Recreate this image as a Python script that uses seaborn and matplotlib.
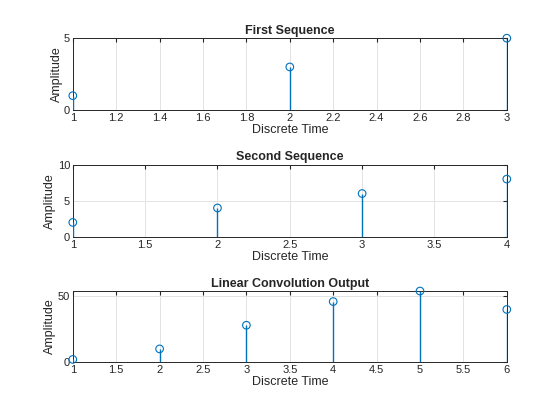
import matplotlib
matplotlib.use('Agg')
import matplotlib.pyplot as plt
import seaborn as sns
import pandas as pd

# sequences
x_seq = [1, 3, 5]
h_seq = [2, 4, 6, 8]
y_conv = [2, 10, 28, 46, 54, 40]

titles = ['First Sequence', 'Second Sequence', 'Linear Convolution Output']
y_limits = [(0, 5), (0, 10), (0, 54)]
x_ticks = [
    [1, 1.2, 1.4, 1.6, 1.8, 2, 2.2, 2.4, 2.6, 2.8, 3],
    [1, 1.5, 2, 2.5, 3, 3.5, 4],
    [1, 1.5, 2, 2.5, 3, 3.5, 4, 4.5, 5, 5.5, 6],
]
y_ticks = [[0, 5], [0, 5, 10], [0, 50]]

sns.set_style('white')
plt.rcParams['font.family'] = ['Liberation Sans', 'DejaVu Sans']

blue = '#0072BD'
fig = plt.figure(figsize=(5.6, 4.2), dpi=100)
positions = [[0.13, 0.738, 0.775, 0.171],
             [0.13, 0.436, 0.775, 0.172],
             [0.13, 0.138, 0.775, 0.169]]

for i, seq in enumerate([x_seq, h_seq, y_conv]):
    ax = fig.add_axes(positions[i])
    df = pd.DataFrame({'n': range(1, len(seq) + 1), 'val': seq})
    ax.vlines(df['n'], 0, df['val'], color=blue, linewidth=1.0, zorder=3)
    sns.scatterplot(data=df, x='n', y='val', ax=ax, marker='o', s=30,
                    facecolor='none', edgecolor=blue, linewidth=0.8,
                    zorder=4, clip_on=False)
    ax.set_xlim(1, len(seq))
    ax.set_ylim(*y_limits[i])
    ax.set_xticks(x_ticks[i])
    ax.set_xticklabels([f'{t:g}' for t in x_ticks[i]])
    ax.set_yticks(y_ticks[i])
    ax.grid(True, color='#e3e3e3', linewidth=0.7)
    ax.set_axisbelow(True)
    ax.tick_params(direction='in', top=True, right=True, length=3,
                   labelsize=8, colors='#262626', pad=2)
    for sp in ax.spines.values():
        sp.set_color('#262626')
        sp.set_linewidth(0.7)
    ax.set_xlabel('Discrete Time', fontsize=9, color='#262626', labelpad=1)
    ax.set_ylabel('Amplitude', fontsize=9, color='#262626', labelpad=1)
    ax.set_title(titles[i], fontsize=9, fontweight='bold', pad=3)

fig.savefig('out.png', dpi=100)
